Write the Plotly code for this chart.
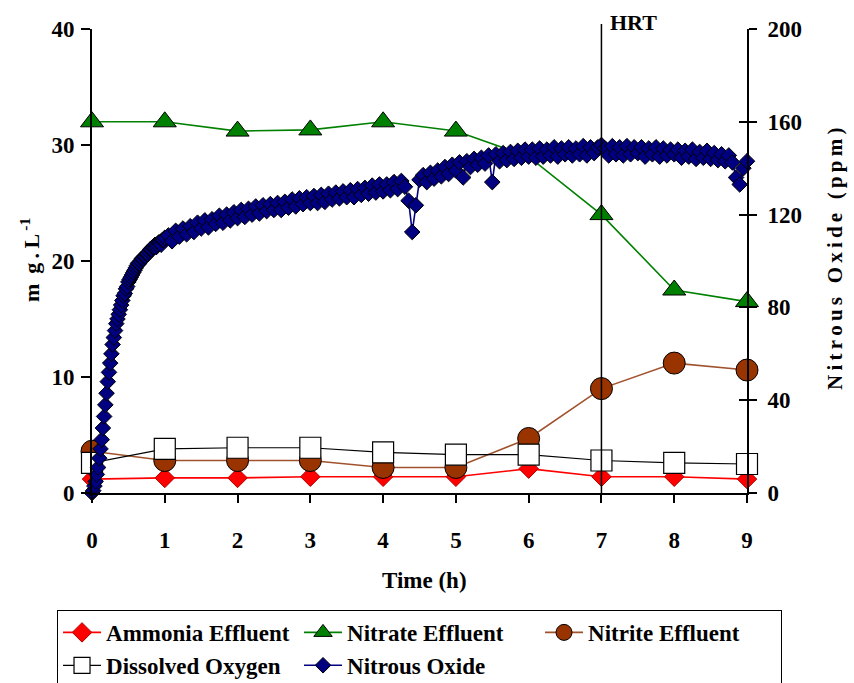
import plotly.graph_objects as go

# ---------------- data ----------------
time_h = [0, 1, 2, 3, 4, 5, 6, 7, 8, 9]
ammonia = [1.2, 1.3, 1.3, 1.4, 1.4, 1.4, 2.1, 1.4, 1.4, 1.2]
nitrate = [32.0, 32.0, 31.2, 31.3, 32.0, 31.2, 29.0, 24.0, 17.5, 16.5]
nitrite = [3.6, 2.8, 2.8, 2.8, 2.2, 2.2, 4.7, 9.0, 11.2, 10.6]
dissolved_oxygen = [2.6, 3.8, 3.9, 3.9, 3.5, 3.3, 3.3, 2.8, 2.6, 2.5]

# Nitrous oxide (ppm): first hour logged every minute
n2o_early_step_h = 1 / 60
n2o_early_ppm = [0, 1, 3, 5, 8, 11, 15, 19, 23, 28,
                 33, 38, 43, 48, 52, 56, 60, 64, 67, 70,
                 73, 75, 77, 79, 81, 83, 85, 86, 88, 89,
                 91, 92, 93, 94, 95, 96, 97, 98, 99, 99,
                 100, 101, 101, 102, 102, 103, 103, 104, 105, 105,
                 106, 106, 107, 106, 107, 108, 108, 107, 109, 109,
                 110]
# then every 3 minutes from 1.05 h to 9.00 h
n2o_late_start_h = 1.05
n2o_late_step_h = 0.05
n2o_late_ppm = [111, 108.5, 113, 110.5, 114, 111.5, 115, 112.5, 116.5, 114,
                117.5, 114.5, 118, 116, 119.5, 116.5, 120, 117.5, 121, 118.5,
                122, 119, 122.5, 120, 123.5, 120.5, 124, 121.5, 124.5, 122,
                125, 122, 125.5, 123, 126.5, 123.5, 127, 124.5, 127.5, 125,
                128, 125, 128.5, 125.5, 129, 126.5, 129.5, 127, 130, 127.5,
                130.5, 127.5, 131, 128.5, 131.5, 129, 132.5, 129.5, 133, 130,
                133, 130.5, 134, 131, 134.5, 132, 126, 112.5, 124, 135,
                137, 134, 138, 135.5, 139, 136.5, 140.5, 137.5, 141.5, 139,
                142.5, 136, 143, 140.5, 144, 141.5, 144.5, 142, 145.5, 134,
                146, 143, 146.5, 143.5, 147, 144, 147.5, 144.5, 148, 145,
                148, 144.5, 148.5, 145, 148, 145.5, 149, 145, 148.5, 146,
                149, 145.5, 148.5, 146, 149.5, 145.5, 149, 146.5, 149, 150,
                148.5, 145.5, 149.5, 146, 149, 145.5, 149.5, 146, 149, 146.5,
                149, 145, 148.5, 146, 149, 145, 148.5, 145.5, 148, 146,
                148, 144.5, 147.5, 145, 148, 144, 147, 144.5, 147.5, 144,
                146.5, 143.5, 146, 143, 145.5, 142.5, 136, 133, 140, 143]

x_ticks = [0, 1, 2, 3, 4, 5, 6, 7, 8, 9]
hrt_time = 7

n2o_time = [i * n2o_early_step_h for i in range(len(n2o_early_ppm))] + \
           [n2o_late_start_h + i * n2o_late_step_h for i in range(len(n2o_late_ppm))]
n2o_ppm = n2o_early_ppm + n2o_late_ppm

FONT = "Liberation Serif"

fig = go.Figure()

fig.add_trace(go.Scatter(
    x=time_h, y=ammonia, name="Ammonia Effluent", mode="lines+markers",
    line=dict(color="#FF0000", width=1.6),
    marker=dict(symbol="diamond", size=15, color="#FF0000",
                line=dict(color="#B00000", width=1)),
    legendrank=1, cliponaxis=False))

fig.add_trace(go.Scatter(
    x=time_h, y=nitrite, name="Nitrite Effluent", mode="lines+markers",
    line=dict(color="#A0522D", width=1.6),
    marker=dict(symbol="circle", size=22, color="#993300",
                line=dict(color="#000000", width=1)),
    legendrank=3, cliponaxis=False))

fig.add_trace(go.Scatter(
    x=time_h, y=dissolved_oxygen, name="Dissolved Oxygen", mode="lines+markers",
    line=dict(color="#000000", width=1.2),
    marker=dict(symbol="square", size=21, color="#FFFFFF",
                line=dict(color="#000000", width=1.2)),
    legendrank=4, cliponaxis=False))

fig.add_trace(go.Scatter(
    x=time_h, y=nitrate, name="Nitrate Effluent", mode="lines+markers",
    line=dict(color="#008000", width=1.6),
    marker=dict(symbol="triangle-up", size=20, color="#008000",
                line=dict(color="#000000", width=1)),
    legendrank=2, cliponaxis=False))

fig.add_trace(go.Scatter(
    x=n2o_time, y=n2o_ppm, name="Nitrous Oxide", mode="lines+markers",
    yaxis="y2",
    line=dict(color="#000080", width=1.6),
    marker=dict(symbol="diamond", size=12, color="#000080",
                line=dict(color="#000000", width=1)),
    legendrank=5, cliponaxis=False))

# dummy trace for the inside-tick overlay axis
fig.add_trace(go.Scatter(x=[None], y=[None], yaxis="y3", showlegend=False,
                         hoverinfo="skip"))

tickfont = dict(family=FONT, size=23, color="black", weight="bold")

fig.update_layout(
    width=854, height=683,
    margin=dict(l=92, r=107, t=29, b=190, autoexpand=False),
    paper_bgcolor="white", plot_bgcolor="white",
    font=dict(family=FONT, color="black", weight="bold"),
    xaxis=dict(range=[0, 9], tickvals=x_ticks, ticks="outside", ticklen=8,
               tickwidth=2, tickcolor="black", showline=True, linecolor="black",
               linewidth=2, showgrid=False, zeroline=False, tickfont=tickfont,
               ticklabelstandoff=17, automargin=False),
    yaxis=dict(range=[0, 40], dtick=10, ticks="outside", ticklen=9, tickwidth=2,
               tickcolor="black", showline=True, linecolor="black", linewidth=2,
               showgrid=False, zeroline=False, tickfont=tickfont,
               ticklabelstandoff=2, automargin=False),
    yaxis2=dict(range=[0, 200], dtick=40, overlaying="y", side="right",
                anchor="x", ticks="outside", ticklen=8, tickwidth=2,
                tickcolor="black", showline=True, linecolor="black", linewidth=2,
                showgrid=False, zeroline=False, tickfont=tickfont,
                ticklabelstandoff=6, automargin=False),
    yaxis3=dict(range=[0, 200], dtick=40, overlaying="y", side="right",
                anchor="x", ticks="inside", ticklen=8, tickwidth=2,
                tickcolor="black", showline=False, showgrid=False,
                zeroline=False, showticklabels=False, automargin=False),
    legend=dict(orientation="h", x=-0.0534, y=-0.252, xanchor="left",
                yanchor="top", bordercolor="black", borderwidth=1,
                bgcolor="white", traceorder="normal",
                font=dict(family=FONT, size=23, color="black", weight="bold"),
                entrywidth=188, entrywidthmode="pixels", itemwidth=38),
    showlegend=True,
)

fig.add_shape(type="line", xref="x", yref="paper", x0=hrt_time, x1=hrt_time,
              y0=0, y1=1.011, line=dict(color="black", width=1.5))

fig.add_annotation(x=hrt_time, xref="x", y=1.013, yref="paper", text="HRT",
                   showarrow=False, xanchor="left", yanchor="middle", xshift=7,
                   font=dict(family=FONT, size=22, color="black", weight="bold"))

fig.add_annotation(x=-0.0947, y=0.502, xref="paper", yref="paper",
                   text="m\u2009 g\u2009.\u2009L<sup>\u2009-1</sup>",
                   textangle=-90, showarrow=False, xanchor="center",
                   yanchor="middle",
                   font=dict(family=FONT, size=22, color="black", weight="bold"))

fig.add_annotation(x=0.507, y=-0.1875, xref="paper", yref="paper",
                   text="Time (h)", showarrow=False, xanchor="center",
                   yanchor="middle",
                   font=dict(family=FONT, size=23, color="black", weight="bold"))

fig.add_annotation(x=1.134, y=0.504, xref="paper", yref="paper",
                   text="\u2009".join("Nitrous Oxide (ppm)"),
                   textangle=-90, showarrow=False, xanchor="center",
                   yanchor="middle",
                   font=dict(family=FONT, size=21, color="black", weight="bold"))

fig.write_html("out.html",
               config={"displayModeBar": False},
               post_script="document.body.style.margin='0px';"
                           "document.body.style.padding='0px';")
